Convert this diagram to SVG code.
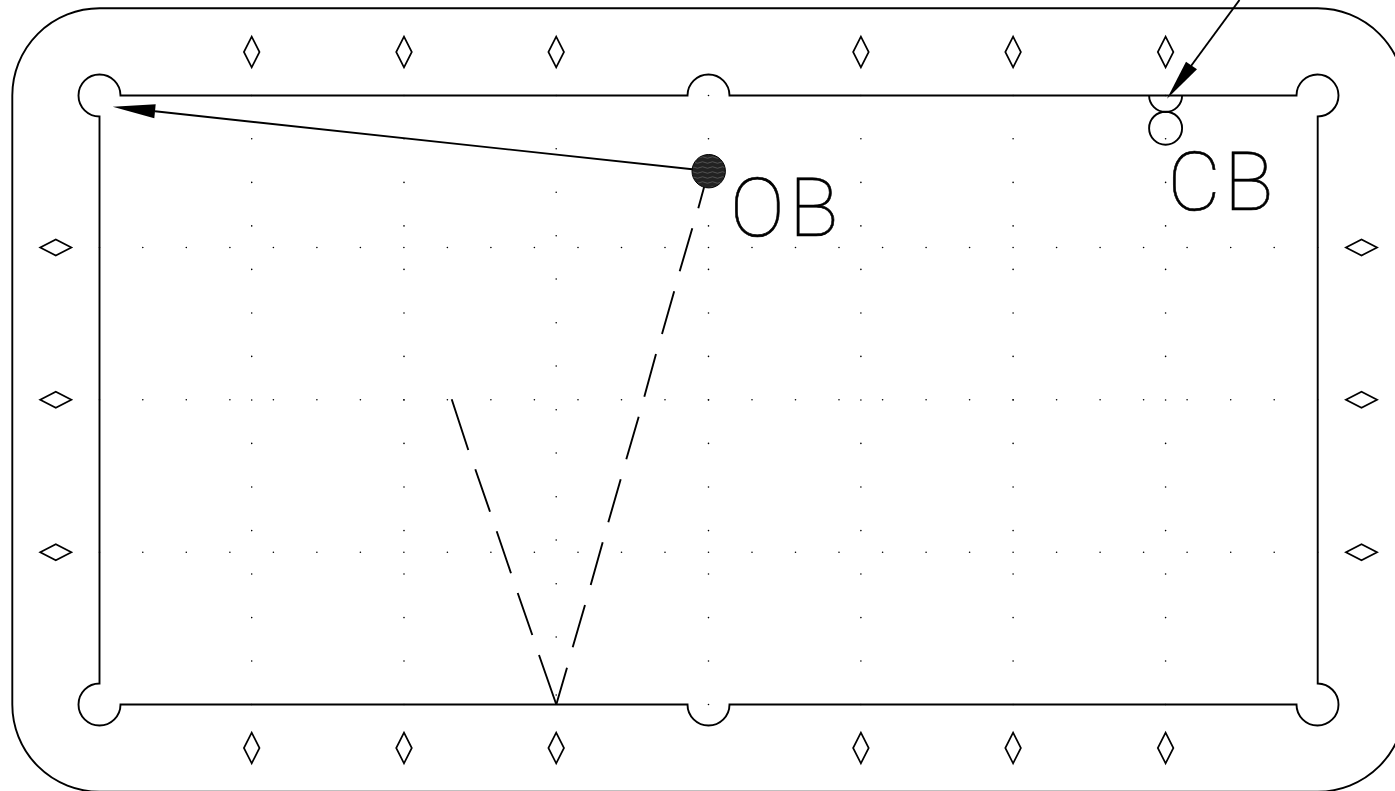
<svg xmlns="http://www.w3.org/2000/svg" width="1395" height="791" viewBox="0 0 1395 791">
<style>
.ln{fill:none;stroke:#000;stroke-width:1.9}
.dm{fill:none;stroke:#000;stroke-width:1.7}
.dot{fill:none;stroke:#000;stroke-width:1.6;stroke-linecap:round}
.head{fill:#000;stroke:none}
.lbl{font-family:Roboto,Inter,"Liberation Sans",sans-serif;font-weight:100;font-size:82px;fill:#000;stroke:#000;stroke-width:.6}
</style>
<defs>
<path id="dv" class="dm" d="M0-15.3L7.8 0 0 15.3-7.8 0Z"/>
<path id="dh" class="dm" d="M-15.6 0L0-8 15.6 0 0 8Z"/>
<path id="col" class="dot" d="M0 95.5h0M0 138.8h0M0 182.4h0M0 225.9h0M0 269.4h0M0 313h0M0 356.4h0M0 400h0M0 443.4h0M0 487h0M0 530.6h0M0 574h0M0 617.6h0M0 661h0M0 704.5h0"/>
<path id="row" class="dot" d="M99.5 0h0M142.8 0h0M186.3 0h0M229.9 0h0M273.4 0h0M316.9 0h0M360.4 0h0M403.9 0h0M447.4 0h0M490.9 0h0M534.4 0h0M578 0h0M621.5 0h0M665 0h0M708.5 0h0M752 0h0M795.5 0h0M839 0h0M882.6 0h0M926.1 0h0M969.6 0h0M1013.1 0h0M1056.6 0h0M1100.1 0h0M1143.6 0h0M1187.1 0h0M1230.7 0h0M1274.2 0h0M1317.7 0h0"/>
<pattern id="wave" width="10" height="5" patternUnits="userSpaceOnUse">
<rect width="10" height="5" fill="#222"/>
<path d="M0 2.5Q2.5 1 5 2.5T10 2.5" fill="none" stroke="#666" stroke-width=".7"/>
</pattern>
</defs>
<g id="dots">
<use href="#col" x="251.7"/><use href="#col" x="404"/><use href="#col" x="708.5"/><use href="#col" x="860.9"/><use href="#col" x="1013.1"/><use href="#col" x="1165.6"/>
<path id="col-mid" class="dot" d="M556.2 95.5h0M556.2 148.7h0M556.2 192.3h0M556.2 235.7h0M556.2 279h0M556.2 322.7h0M556.2 366h0M556.2 409.7h0M556.2 453h0M556.2 496.7h0M556.2 540h0M556.2 583.7h0M556.2 637h0M556.2 695h0"/>
<use href="#row" y="247.5"/><use href="#row" y="399.8"/><use href="#row" y="552.2"/>
</g>
<g id="table">
<path id="cushion" class="ln" d="M120.5 95.5H687.5A21 21 0 0 1 729.5 95.5H1296.5A21 21 0 1 1 1317.7 116.5V683.5A21 21 0 1 1 1296.5 704.5H729.5A21 21 0 0 1 687.5 704.5H120.5A21 21 0 1 1 99.5 683.5V116.5A21 21 0 1 1 120.5 95.5Z"/>
<path id="rail" class="ln" d="M99.5 8.3H1317.7A87.2 87.2 0 0 1 1404.9 95.5V704.5A87.2 87.2 0 0 1 1317.7 791.7H99.5A87.2 87.2 0 0 1 12.3 704.5V95.5A87.2 87.2 0 0 1 99.5 8.3Z"/>
</g>
<g id="diamonds">
<use href="#dv" x="251.7" y="52"/><use href="#dv" x="404" y="52"/><use href="#dv" x="556.2" y="52"/><use href="#dv" x="860.9" y="52"/><use href="#dv" x="1013.1" y="52"/><use href="#dv" x="1165.6" y="52"/>
<use href="#dv" x="251.7" y="748"/><use href="#dv" x="404" y="748"/><use href="#dv" x="556.2" y="748"/><use href="#dv" x="860.9" y="748"/><use href="#dv" x="1013.1" y="748"/><use href="#dv" x="1165.6" y="748"/>
<use href="#dh" x="55.8" y="247.5"/><use href="#dh" x="55.8" y="399.8"/><use href="#dh" x="55.8" y="552.2"/>
<use href="#dh" x="1361.5" y="247.5"/><use href="#dh" x="1361.5" y="399.8"/><use href="#dh" x="1361.5" y="552.2"/>
</g>
<g id="connectors">
<path id="shot-line" class="ln" d="M708.5 171L155 111.3"/>
<polygon class="head" points="112.7,106.7 155.7,104.3 154.3,118.3"/>
<path id="cue-line" class="ln" d="M1239.5 0L1191 66"/>
<polygon class="head" points="1167,98.7 1186,61.7 1197,69.3"/>
<path id="dash-ob" class="ln" d="M708.5 171L698.3 208.3M692.3 228.3L679.7 271.3M674.2 291.3L662 334M656 354L644.3 396.7M638.7 416.7L626.3 459.3M620.7 479.3L608.3 522.3M602.7 542.3L590.7 585M585 605L572.7 647.3M567 667.7L556.3 704.5"/>
<path id="dash-cb" class="ln" d="M451.7 399.3L468.3 450M475.3 469.3L490 511.7M496.7 531.3L511 573.3M517.7 593L532.3 635M539 655L556.3 704.5"/>
</g>
<g id="ob-ball">
<circle cx="708.7" cy="171.2" r="16.7" fill="url(#wave)" stroke="#000" stroke-width="1"/>
</g>
<g id="cb-ball">
<path class="ln" d="M1149.1 95.5A16.5 16.5 0 0 0 1182.1 95.5"/>
<circle class="ln" cx="1165.6" cy="128.2" r="16.5"/>
</g>
<g id="labels">
<text class="lbl" x="730" y="236">O</text>
<text class="lbl" x="789" y="236">B</text>
<text class="lbl" x="1167.5" y="209.5">C</text>
<text class="lbl" x="1224" y="209.5">B</text>
</g>
</svg>
